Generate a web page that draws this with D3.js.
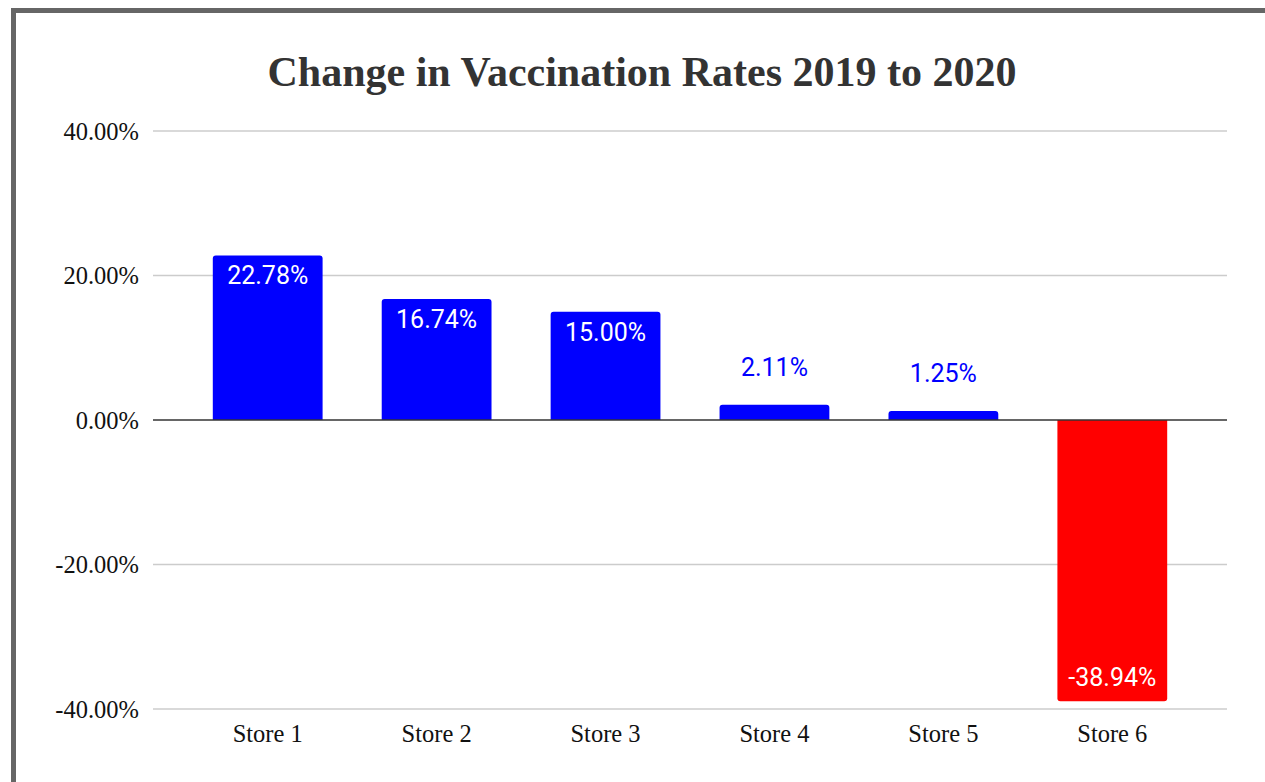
<!DOCTYPE html>
<html>
<head>
<meta charset="utf-8">
<script src="https://cdn.jsdelivr.net/npm/d3@7"></script>
<style>
  html, body { margin: 0; padding: 0; background: #fff; }
  svg { display: block; }
</style>
</head>
<body>
<svg id="chart" width="1265" height="782"></svg>
<script>
const title = "Change in Vaccination Rates 2019 to 2020";
const categories = ["Store 1", "Store 2", "Store 3", "Store 4", "Store 5", "Store 6"];
const values = [0.2278, 0.1674, 0.15, 0.0211, 0.0125, -0.3894];
const yTicks = [-0.4, -0.2, 0, 0.2, 0.4];

const svg = d3.select("#chart");
const W = 1265, H = 782;
const serif = "'Liberation Serif', 'Times New Roman', serif";

// outer frame
svg.append("rect").attr("x", 13.5).attr("y", 10.5).attr("width", W + 20).attr("height", H + 20)
  .attr("fill", "#fff").attr("stroke", "#666").attr("stroke-width", 5);

const x = d3.scaleBand().domain(categories).range([153, 1227]).paddingInner(0.35).paddingOuter(0.354);
const y = d3.scaleLinear().domain([-0.4, 0.4]).range([709, 131]);

const fmt = v => d3.format(".2%")(v).replace("\u2212", "-");

// title
svg.append("text").attr("x", 642).attr("y", 86).attr("text-anchor", "middle")
  .attr("font-family", serif).attr("font-weight", "bold")
  .attr("font-size", 42).attr("fill", "#333").text(title);

// y labels via axis
const yAxis = d3.axisLeft(y).tickValues(yTicks).tickFormat(fmt).tickSize(0).tickPadding(14);
const gy = svg.append("g").attr("transform", "translate(153,0)").call(yAxis);
gy.select(".domain").remove();
gy.selectAll("text").attr("font-family", serif)
  .attr("font-size", 24.5).attr("fill", "#111").attr("dy", "0.33em");

// gridlines
svg.append("g").selectAll("line").data(yTicks.filter(d => d !== 0)).join("line")
  .attr("x1", 153).attr("x2", 1227).attr("y1", d => y(d)).attr("y2", d => y(d))
  .attr("stroke", "#ccc").attr("stroke-width", 1.3);

// bars with rounded far end
const r = 3;
function barPath(d, i) {
  const x0 = x(categories[i]), w = x.bandwidth();
  const y0 = y(0), y1 = y(d);
  if (d >= 0) {
    return `M${x0},${y0}V${y1 + r}Q${x0},${y1} ${x0 + r},${y1}H${x0 + w - r}Q${x0 + w},${y1} ${x0 + w},${y1 + r}V${y0}Z`;
  } else {
    return `M${x0},${y0}V${y1 - r}Q${x0},${y1} ${x0 + r},${y1}H${x0 + w - r}Q${x0 + w},${y1} ${x0 + w},${y1 - r}V${y0}Z`;
  }
}
svg.append("g").selectAll("path").data(values).join("path")
  .attr("d", barPath).attr("fill", d => d >= 0 ? "#0000ff" : "#ff0000");

// zero line
svg.append("line").attr("x1", 153).attr("x2", 1227).attr("y1", y(0)).attr("y2", y(0))
  .attr("stroke", "#333").attr("stroke-width", 1.6);

// data labels
const small = d => Math.abs(y(d) - y(0)) < 40;
svg.append("g").selectAll("text").data(values).join("text")
  .attr("x", (d, i) => x(categories[i]) + x.bandwidth() / 2)
  .attr("y", d => {
    if (small(d)) return y(d) - 29;
    return d >= 0 ? y(d) + 29 : y(d) - 15;
  })
  .attr("text-anchor", "middle")
  .attr("font-family", "Roboto, 'Noto Sans', sans-serif").attr("font-size", 25)
  .attr("fill", d => small(d) ? "#0000ff" : "#fff")
  .text(d => fmt(d));

// x axis labels
const xAxis = d3.axisBottom(x).tickSize(0).tickPadding(0);
const gx = svg.append("g").attr("transform", "translate(0,742)").call(xAxis);
gx.select(".domain").remove();
gx.selectAll("text").attr("font-family", serif)
  .attr("font-size", 24.5).attr("fill", "#111").attr("y", 0).attr("dy", 0);
</script>
</body>
</html>
